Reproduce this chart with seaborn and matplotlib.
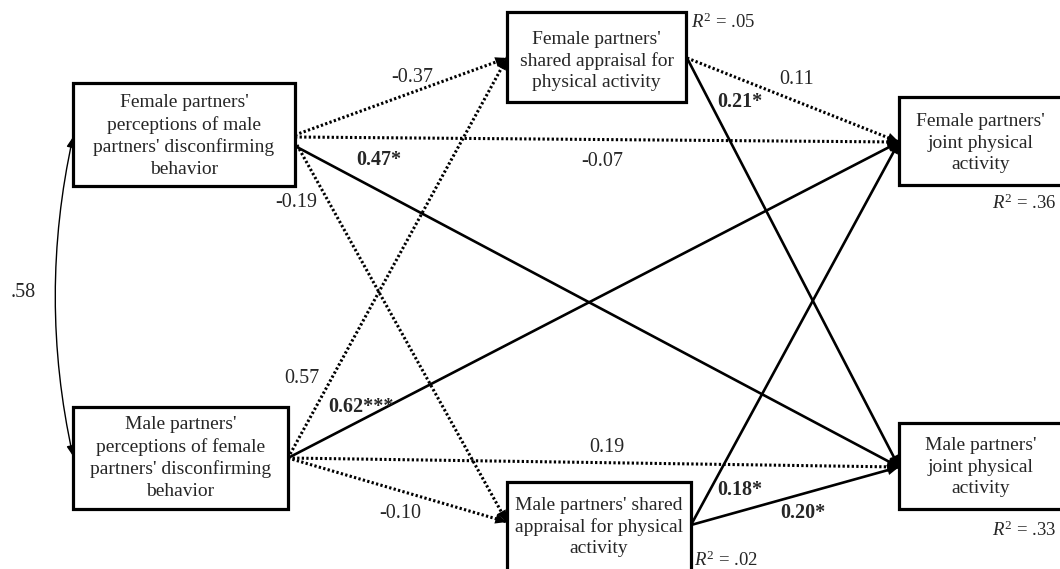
import numpy as np
import matplotlib
matplotlib.use("Agg")
import matplotlib.pyplot as plt
from matplotlib.patches import Rectangle, FancyArrowPatch
import seaborn as sns

# ---- model content -------------------------------------------------------
node_ids = ["F_perc", "M_perc", "F_share", "M_share", "F_joint", "M_joint"]
node_texts = [
    "Female partners'\nperceptions of male\npartners' disconfirming\nbehavior",
    "Male partners'\nperceptions of female\npartners' disconfirming\nbehavior",
    "Female partners'\nshared appraisal for\nphysical activity",
    "Male partners' shared\nappraisal for physical\nactivity",
    "Female partners'\njoint physical\nactivity",
    "Male partners'\njoint physical\nactivity",
]

path_from = ["F_perc", "F_perc", "F_perc", "F_perc",
             "M_perc", "M_perc", "M_perc", "M_perc",
             "F_share", "F_share", "M_share", "M_share"]
path_to = ["F_share", "F_joint", "M_joint", "M_share",
           "F_share", "F_joint", "M_joint", "M_share",
           "F_joint", "M_joint", "F_joint", "M_joint"]
path_coef = [-0.37, -0.07, 0.47, -0.19,
             0.57, 0.62, 0.19, -0.10,
             0.11, 0.21, 0.18, 0.20]
path_stars = ["", "", "*", "",
              "", "***", "", "",
              "", "*", "*", "*"]

r2_nodes = ["F_share", "M_share", "F_joint", "M_joint"]
r2_values = [0.05, 0.02, 0.36, 0.33]

predictor_corr = 0.58

# ---- layout (pixel canvas, y downwards) -----------------------------------
boxes = {  # x0, y0, x1, y1
    "F_perc": (73, 83, 295, 186),
    "M_perc": (73, 407, 288, 509),
    "F_share": (507, 12, 686, 102),
    "M_share": (507, 482, 691, 572),
    "F_joint": (899, 97, 1062, 185),
    "M_joint": (899, 423, 1062, 509),
}
text_cy = {"F_perc": 136, "M_perc": 458, "F_share": 61, "M_share": 527,
           "F_joint": 143, "M_joint": 467}
out_ports = {
    ("F_perc", "F_share"): (295, 135), ("F_perc", "F_joint"): (295, 137),
    ("F_perc", "M_joint"): (295, 146), ("F_perc", "M_share"): (297, 145),
}
default_out = {"M_perc": (288, 458), "F_share": (687, 58), "M_share": (691, 525)}
in_ports = {"F_share": (507, 58), "M_share": (507, 522),
            "F_joint": (899, 142), "M_joint": (899, 467)}
label_pos = [(412, 77), (602, 161), (379, 160), (296, 202),
             (302, 378), (361, 407), (607, 447), (400, 513),
             (797, 79), (740, 102), (740, 490), (803, 513)]
r2_pos = {"F_share": (691, 22, "left"), "M_share": (694, 560, "left"),
          "F_joint": (1057, 203, "right"), "M_joint": (1057, 530, "right")}

sns.set_theme(style="white")
plt.rcParams["font.family"] = ["Liberation Serif", "DejaVu Serif"]
plt.rcParams["mathtext.fontset"] = "custom"
plt.rcParams["mathtext.rm"] = "Liberation Serif"
plt.rcParams["mathtext.it"] = "Liberation Serif:italic"

W, H = 1060, 569
fig = plt.figure(figsize=(W / 100, H / 100), dpi=100, facecolor="white")
ax = fig.add_axes([0, 0, 1, 1])
ax.set_xlim(0, W)
ax.set_ylim(H, 0)
ax.axis("off")

FS = 14
for nid, txt in zip(node_ids, node_texts):
    x0, y0, x1, y1 = boxes[nid]
    ax.add_patch(Rectangle((x0, y0), x1 - x0, y1 - y0, fill=True, fc="white",
                           ec="black", lw=2.3, zorder=3))
    ax.text((x0 + x1) / 2, text_cy[nid], txt, ha="center", va="center",
            fontsize=FS, linespacing=1.33, zorder=4)


def arrow_head(ax, start, end, size=10):
    v = np.array(end, float) - np.array(start, float)
    v /= np.linalg.norm(v)
    back = np.array(end) - v * size
    ax.annotate("", xy=end, xytext=tuple(back),
                arrowprops=dict(arrowstyle="-|>,head_length=0.7,head_width=0.3",
                                lw=0.0, fc="black", ec="black",
                                shrinkA=0, shrinkB=0, mutation_scale=12),
                zorder=5)


for src, dst, coef, st, lp in zip(path_from, path_to, path_coef, path_stars, label_pos):
    start = out_ports.get((src, dst), default_out.get(src))
    end = in_ports[dst]
    sig = st != ""
    if sig:
        ax.plot([start[0], end[0]], [start[1], end[1]], color="black",
                lw=1.9, solid_capstyle="butt", zorder=2)
    else:
        ax.plot([start[0], end[0]], [start[1], end[1]], color="black",
                lw=2.2, linestyle=(0, (0.75, 0.75)), dash_capstyle="butt", zorder=2)
    arrow_head(ax, start, end)
    label = f"{coef:.2f}" + st
    ax.text(lp[0], lp[1], label, ha="center", va="center", fontsize=14.5,
            fontweight="bold" if sig else "normal", zorder=6)

# correlation between the two perception variables
corr = FancyArrowPatch((73, 137), (73, 456), connectionstyle="arc3,rad=0.11",
                       arrowstyle="<|-|>,head_length=0.5,head_width=0.2",
                       mutation_scale=12, lw=1.0, color="black",
                       shrinkA=0, shrinkB=0, zorder=2)
ax.add_patch(corr)
ax.text(23, 292, f"{predictor_corr:.2f}".lstrip("0"), ha="center", va="center",
        fontsize=14.5)

for nid, r2 in zip(r2_nodes, r2_values):
    x, y, ha = r2_pos[nid]
    ax.text(x, y, r"$R^2$ = " + f"{r2:.2f}".lstrip("0"), ha=ha, va="center",
            fontsize=13.5, zorder=6)

fig.savefig("out.png", dpi=100, facecolor="white")
